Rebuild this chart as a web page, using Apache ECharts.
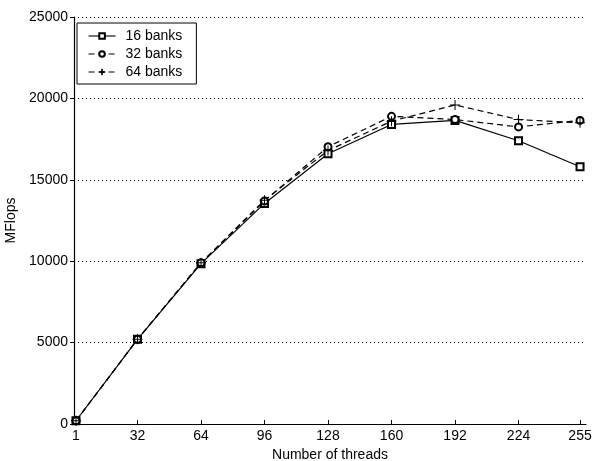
<!DOCTYPE html>
<html>
<head>
<meta charset="utf-8">
<script src="https://cdn.jsdelivr.net/npm/echarts@6/dist/echarts.min.js"></script>
<style>
  html, body { margin: 0; padding: 0; background: #fff; }
  #chart { width: 594px; height: 461px; }
</style>
</head>
<body>
<div id="chart"></div>
<script>
// thread counts on the x axis
const threads = [1, 32, 64, 96, 128, 160, 192, 224, 255];
// MFlops
const banks16 = [200, 5200, 9850, 13550, 16600, 18400, 18650, 17400, 15800];
const banks32 = [200, 5200, 9900, 13700, 17030, 18900, 18700, 18250, 18650];
const banks64 = [200, 5200, 9900, 13750, 16800, 18600, 19600, 18700, 18500];

const chart = echarts.init(document.getElementById('chart'));

const font = 'Liberation Sans, Arial, sans-serif';
const plus = 'path://M-1,-0.1H1V0.1H-1Z M-0.1,-1H0.1V1H-0.1Z';

function pairs(vals) {
  return threads.map((t, i) => [t, vals[i]]);
}

function makeSeries(name, vals, symbol, dashed) {
  const isPlus = symbol === plus;
  return {
    name: name,
    type: 'line',
    data: pairs(vals),
    symbol: symbol,
    symbolSize: isPlus ? 10 : 7,
    showAllSymbol: true,
    lineStyle: { color: '#000', width: 1.2, type: dashed ? [6, 4] : 'solid' },
    itemStyle: { color: '#000', borderColor: '#000', borderWidth: isPlus ? 0 : 1.1 },
    emphasis: { disabled: true },
    animation: false
  };
}

chart.setOption({
  backgroundColor: '#fff',
  textStyle: { fontFamily: font, color: '#000' },
  grid: { left: 74, right: 8, top: 17, bottom: 37, containLabel: false, outerBoundsMode: 'none' },
  legend: {
    orient: 'vertical',
    left: 77,
    top: 23,
    itemWidth: 27,
    itemHeight: 7,
    itemGap: 4,
    padding: [6, 14, 5, 11],
    borderColor: '#000',
    borderWidth: 1,
    lineStyle: { width: 1.1 },
    itemStyle: { borderWidth: 1 },
    textStyle: { fontFamily: font, fontSize: 14, color: '#000', lineHeight: 14, padding: [0, 0, 0, 5] },
    data: ['16 banks', '32 banks', '64 banks']
  },
  xAxis: {
    type: 'value',
    min: 0,
    max: 258,
    name: 'Number of threads',
    nameLocation: 'middle',
    nameGap: 22,
    nameTextStyle: { fontFamily: font, fontSize: 14, color: '#000' },
    axisLine: { onZero: false, lineStyle: { color: '#000', width: 1.2 } },
    axisTick: { inside: true, length: 4, customValues: threads, lineStyle: { color: '#000' } },
    axisLabel: { customValues: threads, fontFamily: font, fontSize: 14, color: '#000', margin: 5 },
    splitLine: { show: false }
  },
  yAxis: {
    type: 'value',
    min: 0,
    max: 25000,
    interval: 5000,
    name: 'MFlops',
    nameLocation: 'middle',
    nameGap: 48,
    nameTextStyle: { fontFamily: font, fontSize: 14, color: '#000' },
    axisLine: { show: true, lineStyle: { color: '#000', width: 1.2 } },
    axisTick: { show: true, inside: false, length: 4, lineStyle: { color: '#000' } },
    axisLabel: { fontFamily: font, fontSize: 14, color: '#000', margin: 6, formatter: v => String(v) },
    splitLine: { show: true, lineStyle: { color: '#000', type: [1, 3], width: 1 } }
  },
  series: [
    makeSeries('16 banks', banks16, 'emptyRect', false),
    makeSeries('32 banks', banks32, 'emptyCircle', true),
    makeSeries('64 banks', banks64, plus, true)
  ]
});
</script>
</body>
</html>
